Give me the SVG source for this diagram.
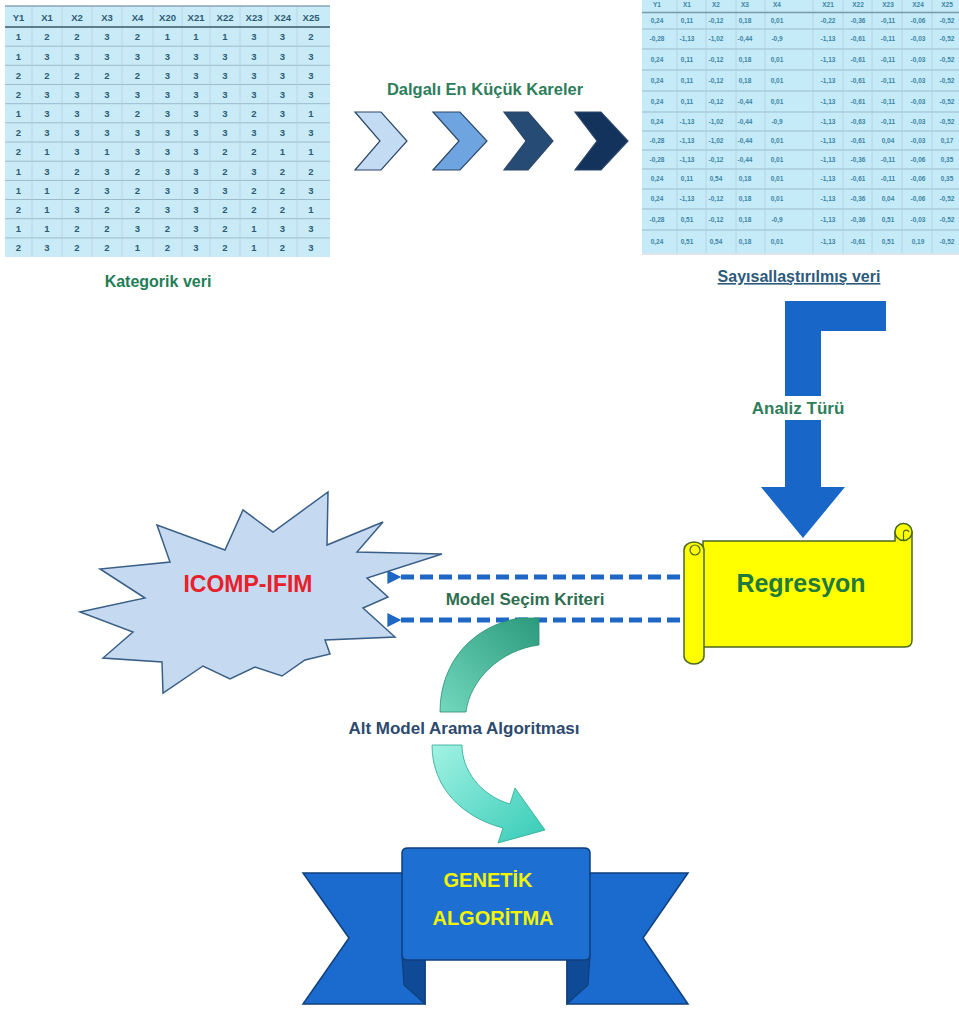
<svg xmlns="http://www.w3.org/2000/svg" width="959" height="1010" viewBox="0 0 959 1010">
<style>
.lt{font-family:"Liberation Sans",Arial,sans-serif;font-size:9.5px;font-weight:bold;fill:#2e5a74;text-anchor:middle}
.rt{font-family:"Liberation Sans",Arial,sans-serif;font-size:6.5px;font-weight:bold;fill:#3f86a6;text-anchor:middle}
.hl{stroke:#9dbccb;stroke-width:1}
.vl{stroke:#b3d0dd;stroke-width:0.8}
.lbl{font-family:"Liberation Sans",Arial,sans-serif;font-weight:bold;text-anchor:middle}
.chev{stroke:#2b4768;stroke-width:1.2}
</style>
<defs>
<linearGradient id="gUp" x1="1" y1="0" x2="0" y2="1">
<stop offset="0" stop-color="#2c9a7c"/>
<stop offset="1" stop-color="#72d8be"/>
</linearGradient>
<linearGradient id="gDn" x1="0" y1="0" x2="1" y2="1">
<stop offset="0" stop-color="#a2f2e4"/>
<stop offset="1" stop-color="#36cbb6"/>
</linearGradient>
<marker id="ah" viewBox="0 0 10 10" refX="1" refY="5" markerWidth="3.2" markerHeight="2.8" orient="auto">
<path d="M10,0 L0,5 L10,10 Z" fill="#1f67c4"/>
</marker>
</defs>
<rect width="959" height="1010" fill="#ffffff"/>

<g id="kategorik-tablo">
<rect x="5" y="6" width="325" height="251" fill="#c8ebf7"/>
<line class="hl" x1="5" x2="330" y1="46.2" y2="46.2"/>
<line class="hl" x1="5" x2="330" y1="65.3" y2="65.3"/>
<line class="hl" x1="5" x2="330" y1="84.5" y2="84.5"/>
<line class="hl" x1="5" x2="330" y1="103.7" y2="103.7"/>
<line class="hl" x1="5" x2="330" y1="122.8" y2="122.8"/>
<line class="hl" x1="5" x2="330" y1="142" y2="142"/>
<line class="hl" x1="5" x2="330" y1="161.2" y2="161.2"/>
<line class="hl" x1="5" x2="330" y1="180.4" y2="180.4"/>
<line class="hl" x1="5" x2="330" y1="199.5" y2="199.5"/>
<line class="hl" x1="5" x2="330" y1="218.7" y2="218.7"/>
<line class="hl" x1="5" x2="330" y1="237.9" y2="237.9"/>
<line class="vl" x1="32" x2="32" y1="6" y2="257"/>
<line class="vl" x1="62" x2="62" y1="6" y2="257"/>
<line class="vl" x1="92" x2="92" y1="6" y2="257"/>
<line class="vl" x1="122" x2="122" y1="6" y2="257"/>
<line class="vl" x1="153" x2="153" y1="6" y2="257"/>
<line class="vl" x1="182" x2="182" y1="6" y2="257"/>
<line class="vl" x1="210" x2="210" y1="6" y2="257"/>
<line class="vl" x1="240" x2="240" y1="6" y2="257"/>
<line class="vl" x1="268" x2="268" y1="6" y2="257"/>
<line class="vl" x1="297" x2="297" y1="6" y2="257"/>
<line x1="5" x2="330" y1="6" y2="6" stroke="#8aa5b3" stroke-width="1.5"/>
<line x1="5" x2="330" y1="27" y2="27" stroke="#5f7c8a" stroke-width="2"/>
<text class="lt" y="20.5"><tspan x="18.5">Y1</tspan><tspan x="47">X1</tspan><tspan x="77">X2</tspan><tspan x="107">X3</tspan><tspan x="137.5">X4</tspan><tspan x="167.5">X20</tspan><tspan x="196">X21</tspan><tspan x="225">X22</tspan><tspan x="254">X23</tspan><tspan x="282.5">X24</tspan><tspan x="311">X25</tspan></text>
<text class="lt" y="40.3"><tspan x="18.5">1</tspan><tspan x="47">2</tspan><tspan x="77">2</tspan><tspan x="107">3</tspan><tspan x="137.5">2</tspan><tspan x="167.5">1</tspan><tspan x="196">1</tspan><tspan x="225">1</tspan><tspan x="254">3</tspan><tspan x="282.5">3</tspan><tspan x="311">2</tspan></text>
<text class="lt" y="59.5"><tspan x="18.5">1</tspan><tspan x="47">3</tspan><tspan x="77">3</tspan><tspan x="107">3</tspan><tspan x="137.5">3</tspan><tspan x="167.5">3</tspan><tspan x="196">3</tspan><tspan x="225">3</tspan><tspan x="254">3</tspan><tspan x="282.5">3</tspan><tspan x="311">3</tspan></text>
<text class="lt" y="78.6"><tspan x="18.5">2</tspan><tspan x="47">2</tspan><tspan x="77">2</tspan><tspan x="107">2</tspan><tspan x="137.5">2</tspan><tspan x="167.5">3</tspan><tspan x="196">3</tspan><tspan x="225">3</tspan><tspan x="254">3</tspan><tspan x="282.5">3</tspan><tspan x="311">3</tspan></text>
<text class="lt" y="97.8"><tspan x="18.5">2</tspan><tspan x="47">3</tspan><tspan x="77">3</tspan><tspan x="107">3</tspan><tspan x="137.5">3</tspan><tspan x="167.5">3</tspan><tspan x="196">3</tspan><tspan x="225">3</tspan><tspan x="254">3</tspan><tspan x="282.5">3</tspan><tspan x="311">3</tspan></text>
<text class="lt" y="117"><tspan x="18.5">1</tspan><tspan x="47">3</tspan><tspan x="77">3</tspan><tspan x="107">3</tspan><tspan x="137.5">2</tspan><tspan x="167.5">3</tspan><tspan x="196">3</tspan><tspan x="225">3</tspan><tspan x="254">2</tspan><tspan x="282.5">3</tspan><tspan x="311">1</tspan></text>
<text class="lt" y="136.1"><tspan x="18.5">2</tspan><tspan x="47">3</tspan><tspan x="77">3</tspan><tspan x="107">3</tspan><tspan x="137.5">3</tspan><tspan x="167.5">3</tspan><tspan x="196">3</tspan><tspan x="225">3</tspan><tspan x="254">3</tspan><tspan x="282.5">3</tspan><tspan x="311">3</tspan></text>
<text class="lt" y="155.3"><tspan x="18.5">2</tspan><tspan x="47">1</tspan><tspan x="77">3</tspan><tspan x="107">1</tspan><tspan x="137.5">3</tspan><tspan x="167.5">3</tspan><tspan x="196">3</tspan><tspan x="225">2</tspan><tspan x="254">2</tspan><tspan x="282.5">1</tspan><tspan x="311">1</tspan></text>
<text class="lt" y="174.5"><tspan x="18.5">1</tspan><tspan x="47">3</tspan><tspan x="77">2</tspan><tspan x="107">3</tspan><tspan x="137.5">2</tspan><tspan x="167.5">3</tspan><tspan x="196">3</tspan><tspan x="225">2</tspan><tspan x="254">3</tspan><tspan x="282.5">2</tspan><tspan x="311">2</tspan></text>
<text class="lt" y="193.6"><tspan x="18.5">1</tspan><tspan x="47">1</tspan><tspan x="77">2</tspan><tspan x="107">3</tspan><tspan x="137.5">2</tspan><tspan x="167.5">3</tspan><tspan x="196">3</tspan><tspan x="225">3</tspan><tspan x="254">2</tspan><tspan x="282.5">2</tspan><tspan x="311">3</tspan></text>
<text class="lt" y="212.8"><tspan x="18.5">2</tspan><tspan x="47">1</tspan><tspan x="77">3</tspan><tspan x="107">2</tspan><tspan x="137.5">2</tspan><tspan x="167.5">3</tspan><tspan x="196">3</tspan><tspan x="225">2</tspan><tspan x="254">2</tspan><tspan x="282.5">2</tspan><tspan x="311">1</tspan></text>
<text class="lt" y="232"><tspan x="18.5">1</tspan><tspan x="47">1</tspan><tspan x="77">2</tspan><tspan x="107">2</tspan><tspan x="137.5">3</tspan><tspan x="167.5">2</tspan><tspan x="196">3</tspan><tspan x="225">2</tspan><tspan x="254">1</tspan><tspan x="282.5">3</tspan><tspan x="311">3</tspan></text>
<text class="lt" y="251.1"><tspan x="18.5">2</tspan><tspan x="47">3</tspan><tspan x="77">2</tspan><tspan x="107">2</tspan><tspan x="137.5">1</tspan><tspan x="167.5">2</tspan><tspan x="196">3</tspan><tspan x="225">2</tspan><tspan x="254">1</tspan><tspan x="282.5">2</tspan><tspan x="311">3</tspan></text>
<text class="lbl" x="158" y="287" font-size="16" fill="#1f7d57">Kategorik veri</text>
</g>

<g id="sayisal-tablo">
<rect x="642" y="0" width="317" height="253" fill="#c5eaf8"/>
<line class="hl" x1="642" x2="959" y1="29" y2="29"/>
<line class="hl" x1="642" x2="959" y1="49" y2="49"/>
<line class="hl" x1="642" x2="959" y1="70" y2="70"/>
<line class="hl" x1="642" x2="959" y1="91" y2="91"/>
<line class="hl" x1="642" x2="959" y1="112" y2="112"/>
<line class="hl" x1="642" x2="959" y1="131" y2="131"/>
<line class="hl" x1="642" x2="959" y1="150" y2="150"/>
<line class="hl" x1="642" x2="959" y1="169" y2="169"/>
<line class="hl" x1="642" x2="959" y1="189" y2="189"/>
<line class="hl" x1="642" x2="959" y1="209" y2="209"/>
<line class="hl" x1="642" x2="959" y1="230" y2="230"/>
<line class="vl" x1="677" x2="677" y1="0" y2="253"/>
<line class="vl" x1="706" x2="706" y1="0" y2="253"/>
<line class="vl" x1="736" x2="736" y1="0" y2="253"/>
<line class="vl" x1="765" x2="765" y1="0" y2="253"/>
<line class="vl" x1="813" x2="813" y1="0" y2="253"/>
<line class="vl" x1="843" x2="843" y1="0" y2="253"/>
<line class="vl" x1="872" x2="872" y1="0" y2="253"/>
<line class="vl" x1="902" x2="902" y1="0" y2="253"/>
<line class="vl" x1="932" x2="932" y1="0" y2="253"/>
<line x1="642" x2="959" y1="12.5" y2="12.5" stroke="#7a9aab" stroke-width="1.5"/>
<line x1="642" x2="959" y1="254" y2="254" stroke="#d6dde2" stroke-width="1.5"/>
<text class="rt" y="6.5"><tspan x="657">Y1</tspan><tspan x="687">X1</tspan><tspan x="716">X2</tspan><tspan x="745">X3</tspan><tspan x="777">X4</tspan><tspan x="828">X21</tspan><tspan x="858">X22</tspan><tspan x="888">X23</tspan><tspan x="918">X24</tspan><tspan x="947">X25</tspan></text>
<text class="rt" y="23.3"><tspan x="657">0,24</tspan><tspan x="687">0,11</tspan><tspan x="716">-0,12</tspan><tspan x="745">0,18</tspan><tspan x="777">0,01</tspan><tspan x="828">-0,22</tspan><tspan x="858">-0,36</tspan><tspan x="888">-0,11</tspan><tspan x="918">-0,06</tspan><tspan x="947">-0,52</tspan></text>
<text class="rt" y="41.3"><tspan x="657">-0,28</tspan><tspan x="687">-1,13</tspan><tspan x="716">-1,02</tspan><tspan x="745">-0,44</tspan><tspan x="777">-0,9</tspan><tspan x="828">-1,13</tspan><tspan x="858">-0,61</tspan><tspan x="888">-0,11</tspan><tspan x="918">-0,03</tspan><tspan x="947">-0,52</tspan></text>
<text class="rt" y="61.8"><tspan x="657">0,24</tspan><tspan x="687">0,11</tspan><tspan x="716">-0,12</tspan><tspan x="745">0,18</tspan><tspan x="777">0,01</tspan><tspan x="828">-1,13</tspan><tspan x="858">-0,61</tspan><tspan x="888">-0,11</tspan><tspan x="918">-0,03</tspan><tspan x="947">-0,52</tspan></text>
<text class="rt" y="82.8"><tspan x="657">0,24</tspan><tspan x="687">0,11</tspan><tspan x="716">-0,12</tspan><tspan x="745">0,18</tspan><tspan x="777">0,01</tspan><tspan x="828">-1,13</tspan><tspan x="858">-0,61</tspan><tspan x="888">-0,11</tspan><tspan x="918">-0,03</tspan><tspan x="947">-0,52</tspan></text>
<text class="rt" y="103.8"><tspan x="657">0,24</tspan><tspan x="687">0,11</tspan><tspan x="716">-0,12</tspan><tspan x="745">-0,44</tspan><tspan x="777">0,01</tspan><tspan x="828">-1,13</tspan><tspan x="858">-0,61</tspan><tspan x="888">-0,11</tspan><tspan x="918">-0,03</tspan><tspan x="947">-0,52</tspan></text>
<text class="rt" y="123.8"><tspan x="657">0,24</tspan><tspan x="687">-1,13</tspan><tspan x="716">-1,02</tspan><tspan x="745">-0,44</tspan><tspan x="777">-0,9</tspan><tspan x="828">-1,13</tspan><tspan x="858">-0,63</tspan><tspan x="888">-0,11</tspan><tspan x="918">-0,03</tspan><tspan x="947">-0,52</tspan></text>
<text class="rt" y="142.8"><tspan x="657">-0,28</tspan><tspan x="687">-1,13</tspan><tspan x="716">-1,02</tspan><tspan x="745">-0,44</tspan><tspan x="777">0,01</tspan><tspan x="828">-1,13</tspan><tspan x="858">-0,61</tspan><tspan x="888">0,04</tspan><tspan x="918">-0,03</tspan><tspan x="947">0,17</tspan></text>
<text class="rt" y="161.8"><tspan x="657">-0,28</tspan><tspan x="687">-1,13</tspan><tspan x="716">-0,12</tspan><tspan x="745">-0,44</tspan><tspan x="777">0,01</tspan><tspan x="828">-1,13</tspan><tspan x="858">-0,36</tspan><tspan x="888">-0,11</tspan><tspan x="918">-0,06</tspan><tspan x="947">0,35</tspan></text>
<text class="rt" y="181.3"><tspan x="657">0,24</tspan><tspan x="687">0,11</tspan><tspan x="716">0,54</tspan><tspan x="745">0,18</tspan><tspan x="777">0,01</tspan><tspan x="828">-1,13</tspan><tspan x="858">-0,61</tspan><tspan x="888">-0,11</tspan><tspan x="918">-0,06</tspan><tspan x="947">0,35</tspan></text>
<text class="rt" y="201.3"><tspan x="657">0,24</tspan><tspan x="687">-1,13</tspan><tspan x="716">-0,12</tspan><tspan x="745">0,18</tspan><tspan x="777">0,01</tspan><tspan x="828">-1,13</tspan><tspan x="858">-0,36</tspan><tspan x="888">0,04</tspan><tspan x="918">-0,06</tspan><tspan x="947">-0,52</tspan></text>
<text class="rt" y="221.8"><tspan x="657">-0,28</tspan><tspan x="687">0,51</tspan><tspan x="716">-0,12</tspan><tspan x="745">0,18</tspan><tspan x="777">-0,9</tspan><tspan x="828">-1,13</tspan><tspan x="858">-0,36</tspan><tspan x="888">0,51</tspan><tspan x="918">-0,03</tspan><tspan x="947">-0,52</tspan></text>
<text class="rt" y="243.8"><tspan x="657">0,24</tspan><tspan x="687">0,51</tspan><tspan x="716">0,54</tspan><tspan x="745">0,18</tspan><tspan x="777">0,01</tspan><tspan x="828">-1,13</tspan><tspan x="858">-0,61</tspan><tspan x="888">0,51</tspan><tspan x="918">0,19</tspan><tspan x="947">-0,52</tspan></text>
<text class="lbl" x="799" y="282" font-size="16" fill="#2d5a7a" text-decoration="underline">Sayısallaştırılmış veri</text>
</g>

<g id="dalgali-en-kucuk-kareler">
<text class="lbl" x="485" y="95" font-size="16.5" fill="#2e7d5b">Dalgalı En Küçük Kareler</text>
<polygon class="chev" fill="#c4dcf3" points="355,112 381,112 407,141 381,170 355,170 380,141"/>
<polygon class="chev" fill="#6ea5e0" points="433,112 460,112 487,141 460,170 433,170 459,141"/>
<polygon class="chev" fill="#264b74" points="504,112 528,112 553,141 528,170 504,170 526,141"/>
<polygon class="chev" fill="#14335c" points="575,112 601,112 628,141 601,170 575,170 597,141"/>
</g>

<g id="connectors">
<path id="analiz-oku" d="M785,301 L886,301 L886,331 L821,331 L821,487 L845,487 L803,538 L761,487 L785,487 Z" fill="#1867c8"/>
<rect x="745" y="396" width="106" height="24" fill="#ffffff"/>
<text class="lbl" x="798" y="414" font-size="17" fill="#2e7d5b">Analiz Türü</text>
<line x1="680" y1="577" x2="400" y2="577" stroke="#1f67c4" stroke-width="5" stroke-dasharray="13 6" marker-end="url(#ah)"/>
<line x1="680" y1="620" x2="400" y2="620" stroke="#1f67c4" stroke-width="5" stroke-dasharray="13 6" marker-end="url(#ah)"/>
<text class="lbl" x="525" y="605" font-size="17" fill="#2e6e50">Model Seçim Kriteri</text>
<path d="M520,618 L539,618 L539,645 C500,650 470,680 466,712 L440,712 C440,660 475,625 520,618 Z" fill="url(#gUp)" stroke="#2a8f74" stroke-width="0.8"/>
<path d="M432,745 L462,745 C462,770 480,795 510,804 L515,788 L545,830 L498,843 L503,828 C465,818 432,790 432,745 Z" fill="url(#gDn)" stroke="#2aa891" stroke-width="0.8"/>
<text class="lbl" x="464" y="734" font-size="17" fill="#2d4a6e">Alt Model Arama Algoritması</text>
</g>

<g id="icomp-ifim">
<polygon fill="#c5d9f1" stroke="#3a5f86" stroke-width="1.5" stroke-linejoin="miter" points="157,525 170,562 100,569 145,598 80,612 133,632 103,658 162,662 163,693 203,666 230,679 255,667 282,676 305,660 330,654 325,640 395,637 363,608 388,597 367,578 442,554 357,552 383,522 327,545 328,492 273,532 243,510 225,550"/>
<text class="lbl" x="248" y="592" font-size="23" fill="#e8202a">ICOMP-IFIM</text>
</g>

<g id="regresyon">
<path d="M703,541 L895,541 L895,532 A8.5,8.5 0 0 1 912,532 L912,640 Q912,647 905,647 L703,647 Z" fill="#ffff00" stroke="#4a6a1e" stroke-width="1.5"/>
<circle cx="903.5" cy="532" r="8.5" fill="#ffff00" stroke="#4a6a1e" stroke-width="1.5"/>
<path d="M903.5,540.5 L903.5,532 A3,3 0 0 1 909,532" fill="none" stroke="#4a6a1e" stroke-width="1.2"/>
<path d="M684,550 A10,8 0 0 1 704,550 L704,656 A10,8 0 0 1 684,656 Z" fill="#ffff00" stroke="#4a6a1e" stroke-width="1.5"/>
<circle cx="695" cy="550" r="5" fill="#ffff00" stroke="#4a6a1e" stroke-width="1.2"/>
<text class="lbl" x="801" y="592" font-size="25" fill="#1f7a3c">Regresyon</text>
</g>

<g id="genetik-algoritma">
<polygon points="303,873 425,873 425,1004 303,1004 349,938" fill="#1a6bcd" stroke="#0f3f7c" stroke-width="1.5"/>
<polygon points="688,873 567,873 567,1004 688,1004 643,938" fill="#1a6bcd" stroke="#0f3f7c" stroke-width="1.5"/>
<polygon points="402,955 425,955 425,1004 404,985" fill="#0e4a96" stroke="#0f3f7c" stroke-width="1.2"/>
<polygon points="590,955 567,955 567,1004 588,985" fill="#0e4a96" stroke="#0f3f7c" stroke-width="1.2"/>
<path d="M402,853 Q402,848 408,848 L584,848 Q590,848 590,853 L590,955 Q590,960 584,960 L408,960 Q402,960 402,955 Z" fill="#1d6fd2" stroke="#0f3f7c" stroke-width="1.5"/>
<text class="lbl" x="488" y="887" font-size="20" fill="#f4f400">GENETİK</text>
<text class="lbl" x="493" y="925" font-size="20" fill="#f4f400">ALGORİTMA</text>
</g>
</svg>
